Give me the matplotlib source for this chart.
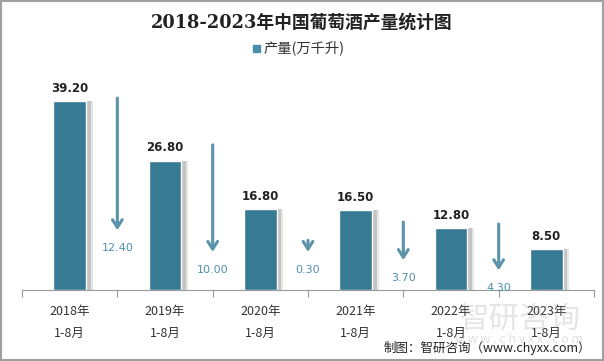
import matplotlib
matplotlib.use('Agg')
import matplotlib.pyplot as plt
from matplotlib.patches import Rectangle
import numpy as np

plt.rcParams['font.family'] = ['Noto Sans CJK SC', 'DejaVu Sans']

# data
years = ['2018年\n1-8月', '2019年\n1-8月', '2020年\n1-8月', '2021年\n1-8月', '2022年\n1-8月', '2023年\n1-8月']
output = [39.20, 26.80, 16.80, 16.50, 12.80, 8.50]
decrease = [12.40, 10.00, 0.30, 3.70, 4.30]

# arrow layout (in data units)
arrow_top = [39.8, 30.1, 10.3, 14.1, 13.7]
arrow_bottom = [12.4, 7.9, 7.9, 6.2, 4.1]

bar_color = '#367a93'
arrow_color = '#5b93ab'

fig = plt.figure(figsize=(6.04, 3.61), dpi=100)
ax = fig.add_axes([22 / 604, 71 / 361, 572 / 604, 217 / 361])

x = np.arange(len(output))
# soft shadow behind the bars
ax.bar(x + 0.07, output, width=0.34, color='#e6e6e6', zorder=1)
ax.bar(x + 0.05, output, width=0.34, color='#c4c4c4', zorder=1)
ax.bar(x, output, width=0.34, color=bar_color, edgecolor='white', linewidth=1, zorder=2)

for xi, v in zip(x, output):
    ax.text(xi, v + 1.3, '%.2f' % v, ha='center', va='bottom', fontsize=8.5,
            fontweight='bold', color='#222222', family=['DejaVu Sans'])

for i, d in enumerate(decrease):
    xb = i + 0.5
    ax.annotate('', xy=(xb, arrow_bottom[i]), xytext=(xb, arrow_top[i]),
                arrowprops=dict(arrowstyle='->,head_width=0.35,head_length=0.55',
                                color=arrow_color, lw=2.2, shrinkA=0, shrinkB=0))
    ax.text(xb, arrow_bottom[i] - 2.7, '%.2f' % d, ha='center', va='top', fontsize=8,
            color='#4f8fae', family=['DejaVu Sans'])

ax.set_xlim(-0.5, len(output) - 0.5)
ax.set_ylim(0, 45)
ax.set_yticks([])
for s in ['left', 'right', 'top']:
    ax.spines[s].set_visible(False)
ax.spines['bottom'].set_color('#999999')
ax.set_xticks(np.arange(-0.5, len(output)), minor=False)
ax.set_xticks(x, minor=True)
ax.tick_params(axis='x', which='major', length=5, color='#999999', labelbottom=False)
ax.tick_params(axis='x', which='minor', length=0, pad=11)
ax.set_xticklabels(years, minor=True, fontsize=9, color='#333333', linespacing=1.85)

fig.text(0.5, 0.938, '2018-2023年中国葡萄酒产量统计图', ha='center', va='center',
         fontsize=12.8, fontweight='bold', color='#222222', family=['DejaVu Serif', 'Noto Sans CJK SC'])
fig.patches.append(Rectangle((253 / 604, 1 - 52 / 361), 7 / 604, 7 / 361,
                             transform=fig.transFigure, color='#4a8eab', figure=fig))
fig.text(264 / 604, 1 - 48 / 361, '产量(万千升)', ha='left', va='center', fontsize=10.3, color='#333333')

# watermark
fig.text(0.86, 0.115, '智研咨询', ha='center', va='center', fontsize=22, color='#999999', alpha=0.25)
fig.text(0.86, 0.06, 'w w w . c h y x x . c o m', ha='center', va='center', fontsize=9,
         color='#999999', alpha=0.3)

fig.text(0.978, 0.035, '制图：智研咨询（www.chyxx.com）', ha='right', va='center', fontsize=9, color='#222222')

fig.patches.append(Rectangle((0.001, 0.002), 0.997, 0.995, transform=fig.transFigure,
                             fill=False, edgecolor='#a0a0a0', lw=1.5, figure=fig))

fig.savefig('out.png', dpi=100)
